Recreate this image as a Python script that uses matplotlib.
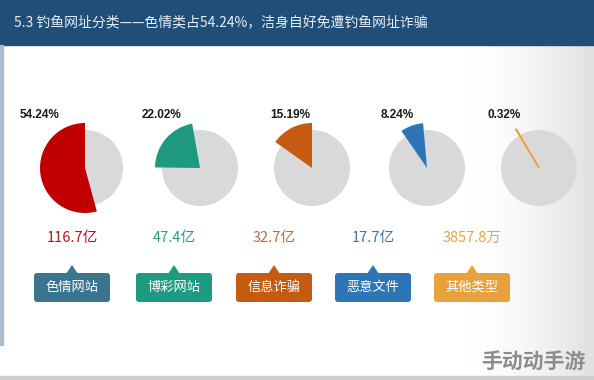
import matplotlib
matplotlib.use("Agg")
import matplotlib.pyplot as plt
import numpy as np
from matplotlib.patches import Rectangle, FancyBboxPatch, Polygon

plt.rcParams['font.family'] = ['Noto Sans CJK SC', 'DejaVu Sans']

# data
title = "5.3 钓鱼网址分类——色情类占54.24%，洁身自好免遭钓鱼网址诈骗"
categories = ["色情网站", "博彩网站", "信息诈骗", "恶意文件", "其他类型"]
shares = [54.24, 22.02, 15.19, 8.24, 0.32]
amounts = ["116.7亿", "47.4亿", "32.7亿", "17.7亿", "3857.8万"]
slice_colors = ["#c00000", "#1e9a80", "#c55a11", "#2e75b6", "#e9a23b"]
box_colors = ["#3a7590", "#1e9a80", "#c55a11", "#2e75b6", "#e9a23b"]
amount_colors = ["#b0141e", "#2f9a7c", "#c0693a", "#3f74ad", "#e4a24a"]

# layout (pixels, y measured from top)
W, H = 594, 380
pie_x = [85, 200, 312, 427, 539]
pie_y = 168
pie_start = [90, 100, 90, 95, 120]
label_dx = [-65, -58, -42, -46, -52]
box_x = [72, 174, 274, 373, 472]

fig = plt.figure(figsize=(W / 100, H / 100), dpi=100)
ax = fig.add_axes([0, 0, 1, 1])

def Y(y):
    return H - y

# background gradient on the right
grad = np.ones((10, 200, 3))
t = np.linspace(0, 1, 200) ** 1.6
for k in range(3):
    grad[:, :, k] = 1 - 0.12 * t
ax.imshow(grad, extent=[470, W, 0, H], aspect='auto', zorder=0)

# title bar
ax.add_patch(Rectangle((0, Y(45)), W, 45, color="#1f4e79", zorder=1))
ax.text(14, Y(22), title, color="#e8eef5", fontsize=10, va='center', ha='left', zorder=2)
# left border
ax.add_patch(Rectangle((0, Y(345)), 3, 300, color="#a9bccf", zorder=1))
ax.add_patch(Rectangle((0, 0), W, 4, color="#cfcfcf", zorder=1))

for i in range(5):
    cx, cy = pie_x[i], Y(pie_y)
    ax.pie([100], colors=["#d9d9d9"], radius=38, center=(cx, cy), frame=True,
           wedgeprops=dict(linewidth=0))
    w, _ = ax.pie([shares[i], 100 - shares[i]], colors=[slice_colors[i], "none"],
                  radius=45, center=(cx, cy), startangle=pie_start[i], frame=True,
                  wedgeprops=dict(linewidth=0))
    if shares[i] < 1:
        w[0].set_edgecolor(slice_colors[i])
        w[0].set_linewidth(1.0)
    ax.text(cx + label_dx[i], Y(115), f"{shares[i]:.2f}%", fontsize=8.5,
            fontweight='bold', family=['Liberation Sans', 'DejaVu Sans'],
            color="#1a1a1a", va='center', ha='left')

    bx = box_x[i]
    ax.text(bx, Y(238), amounts[i], color=amount_colors[i], fontsize=10.5,
            ha='center', va='center')
    ax.add_patch(FancyBboxPatch((bx - 38, Y(302)), 76, 29,
                                boxstyle="round,pad=0,rounding_size=3",
                                color=box_colors[i], linewidth=0, zorder=3))
    ax.add_patch(Polygon([(bx - 6, Y(274)), (bx + 6, Y(274)), (bx, Y(265))],
                         closed=True, color=box_colors[i], linewidth=0, zorder=3))
    ax.text(bx, Y(287), categories[i], color="white", fontsize=9.5,
            ha='center', va='center', zorder=4)

ax.text(586, Y(361), "手动动手游", color="#8c8c8c", fontsize=15, fontweight='bold',
        ha='right', va='center', zorder=4)

ax.set_xlim(0, W)
ax.set_ylim(0, H)
ax.set_aspect('auto')
ax.axis('off')

fig.savefig("out.png", dpi=100)
